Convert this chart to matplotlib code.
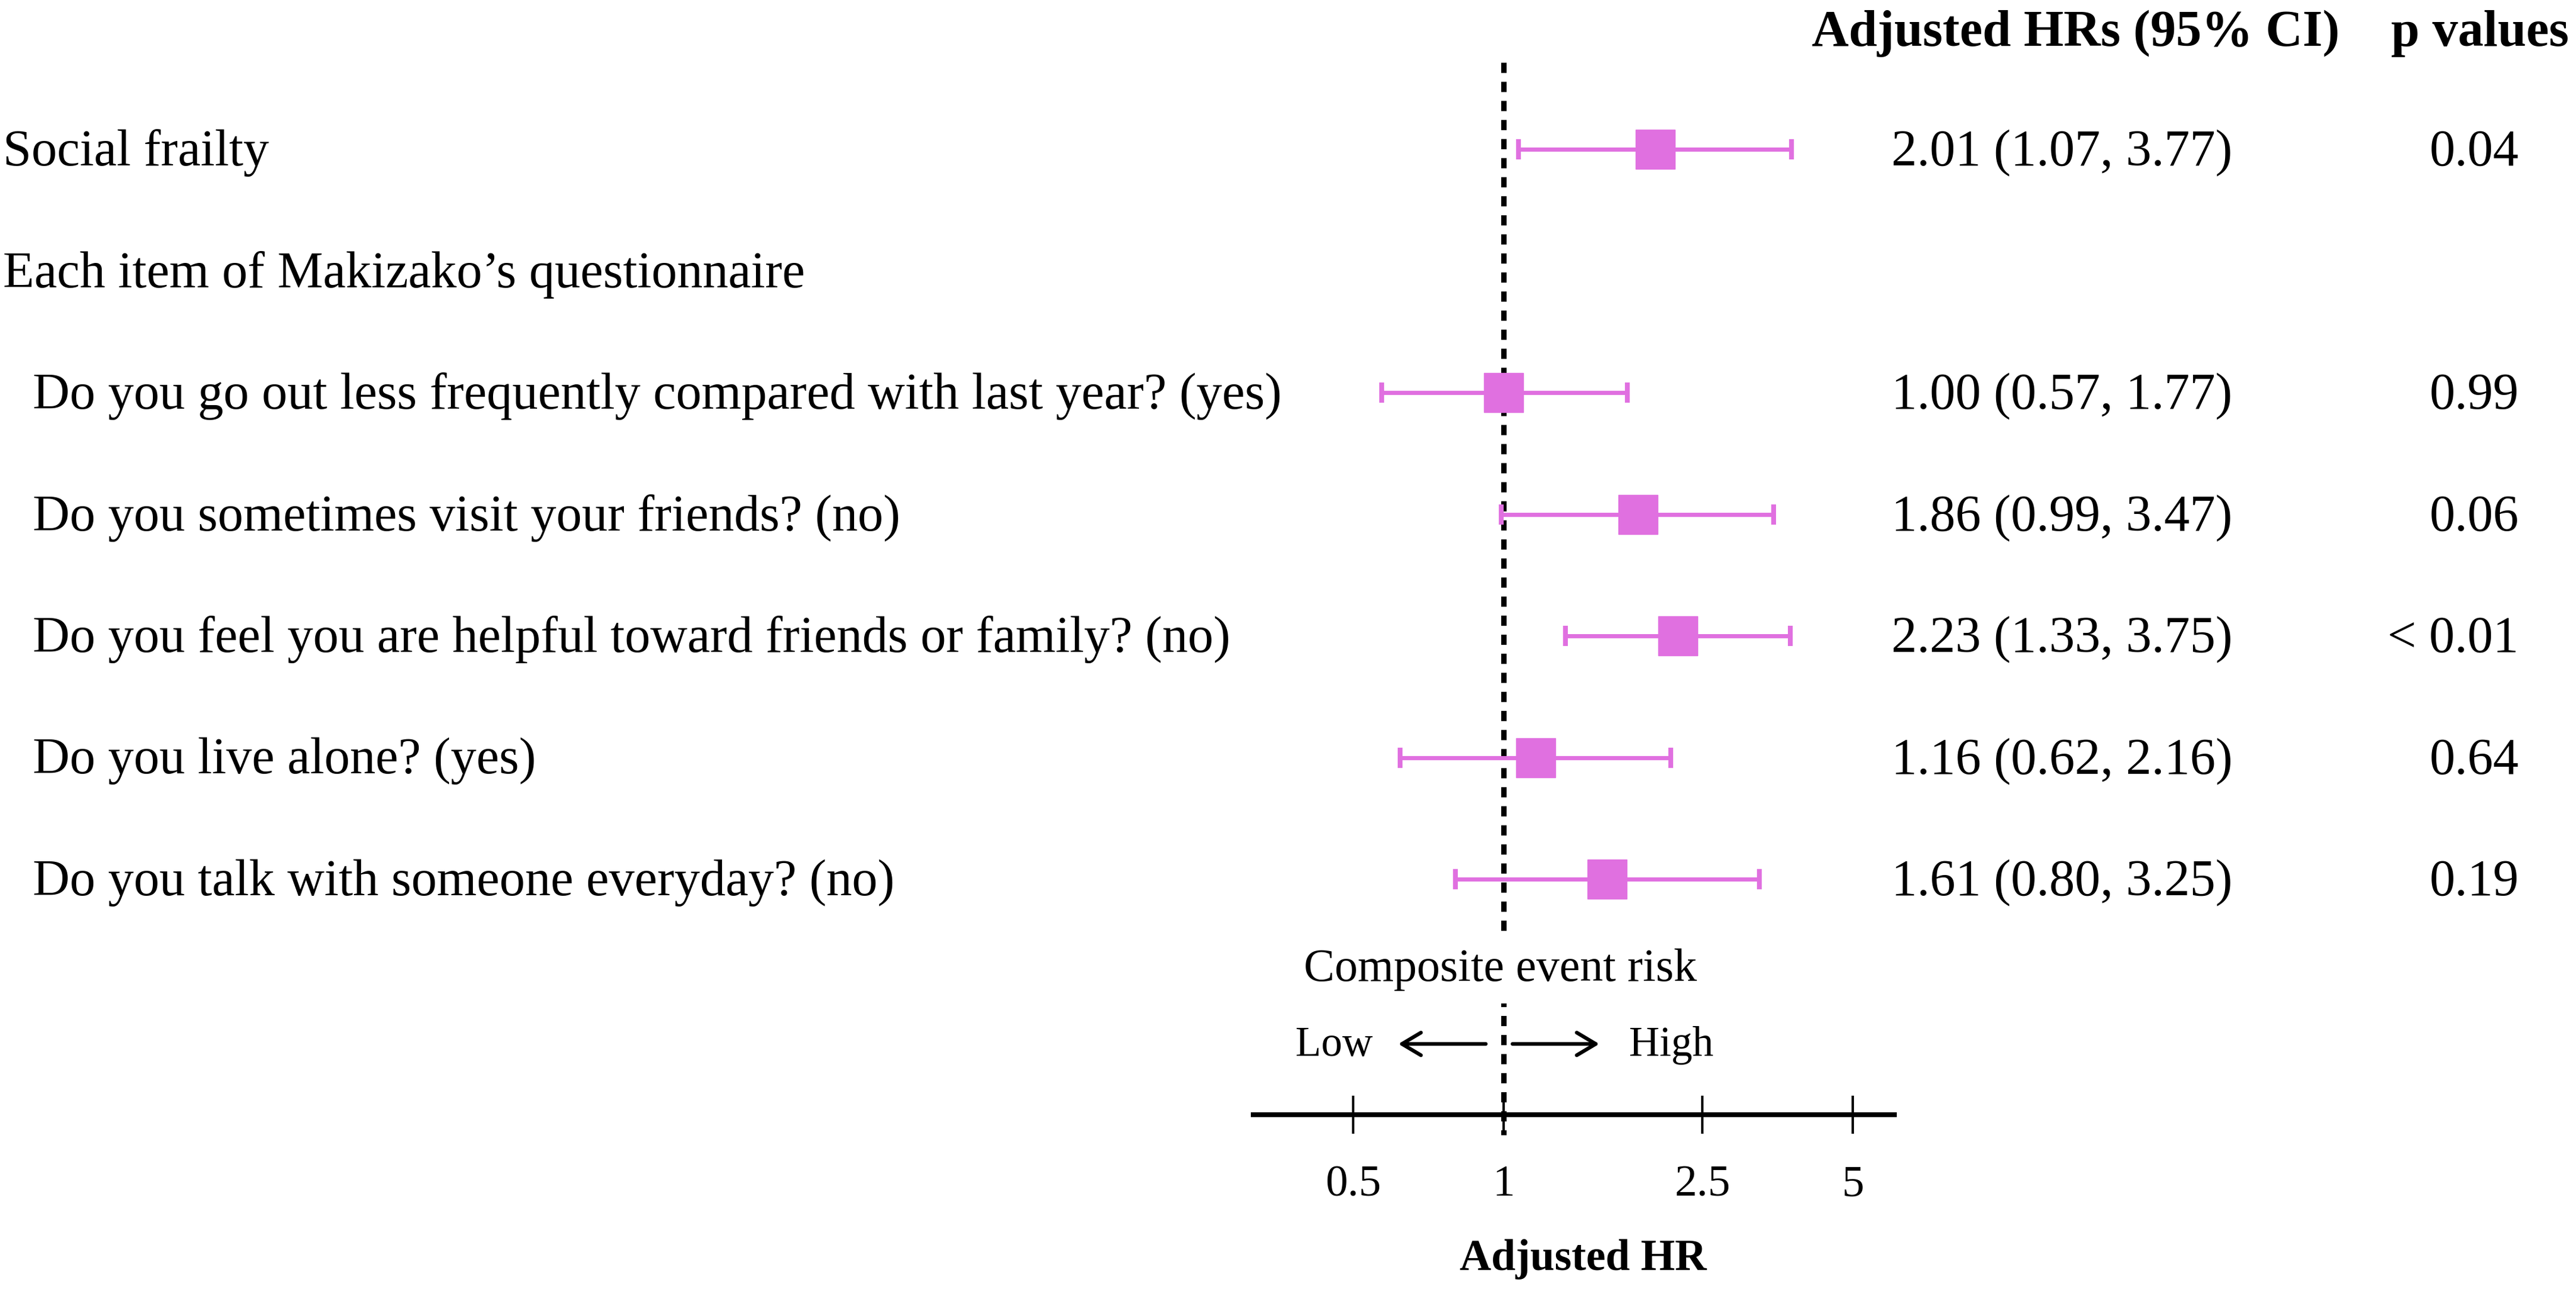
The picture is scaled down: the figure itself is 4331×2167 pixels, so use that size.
import matplotlib.pyplot as plt
import matplotlib.transforms as mtransforms

plt.rcParams['font.family'] = ['Liberation Serif', 'DejaVu Serif']

# rows of the forest plot (None = header row without an estimate)
labels = [
    "Social frailty",
    "Each item of Makizako\u2019s questionnaire",
    "Do you go out less frequently compared with last year? (yes)",
    "Do you sometimes visit your friends? (no)",
    "Do you feel you are helpful toward friends or family? (no)",
    "Do you live alone? (yes)",
    "Do you talk with someone everyday? (no)",
]
indented = [False, False, True, True, True, True, True]
hr = [2.01, None, 1.00, 1.86, 2.23, 1.16, 1.61]
ci_low = [1.07, None, 0.57, 0.99, 1.33, 0.62, 0.80]
ci_high = [3.77, None, 1.77, 3.47, 3.75, 2.16, 3.25]
p_values = ["0.04", "", "0.99", "0.06", "< 0.01", "0.64", "0.19"]
ticks = [0.5, 1, 2.5, 5]
tick_labels = ["0.5", "1", "2.5", "5"]

W, H = 4331, 2167
PINK = '#E070E0'

fig = plt.figure(figsize=(W / 100, H / 100), dpi=100)


def fx(px):
    return px / W


def fy(py):
    return 1 - py / H


# axes: bottom spine is the HR axis line
ax_left, ax_right, ax_bottom = 2107, 3185, 1874
ax = fig.add_axes([fx(ax_left), fy(ax_bottom), fx(ax_right - ax_left), ax_bottom / H])
ax.set_xscale('log')
ax.set_xlim(0.315, 6.06)
row_top, row_step = 251, 204.5


def row(py):
    return (py - row_top) / row_step


ax.set_ylim(row(ax_bottom), row(0))

for s in ['top', 'left', 'right']:
    ax.spines[s].set_visible(False)
ax.spines['bottom'].set_linewidth(5.8)
ax.set_yticks([])
ax.set_xticks(ticks)
ax.set_xticklabels(tick_labels, fontsize=54)
ax.minorticks_off()
ax.tick_params(axis='x', direction='inout', length=46, width=2.9, pad=38)
ax.patch.set_visible(False)

# reference line at HR = 1
ax.vlines(1, row(105), row(1908), colors='black', linewidth=6.5,
          linestyles=(0, (1.9, 1.65)), clip_on=False, zorder=1)

# estimates and confidence intervals
for i in range(len(labels)):
    if hr[i] is None:
        continue
    ax.errorbar(hr[i], i, xerr=[[hr[i] - ci_low[i]], [ci_high[i] - hr[i]]],
                fmt='s', color=PINK, ecolor=PINK, markersize=47.5,
                elinewidth=5, capsize=12.2, capthick=5.8, zorder=3)

# text columns: x in figure pixels, y in row units
tr = mtransforms.blended_transform_factory(fig.transFigure, ax.transData)
dy = 0.03
for i, lab in enumerate(labels):
    x = 55 if indented[i] else 5
    ax.text(fx(x), i + dy, lab, transform=tr, ha='left', va='center',
            fontsize=62, clip_on=False)
    if hr[i] is not None:
        ax.text(fx(3467), i + dy, f"{hr[i]:.2f} ({ci_low[i]:.2f}, {ci_high[i]:.2f})",
                transform=tr, ha='center', va='center', fontsize=62, clip_on=False)
    if p_values[i]:
        ax.text(fx(4235), i + dy, p_values[i], transform=tr, ha='right', va='center',
                fontsize=62, clip_on=False)

head_y = row(50) + dy
ax.text(fx(3490), head_y, "Adjusted HRs (95% CI)", transform=tr, ha='center',
        va='center', fontsize=62, fontweight='bold', clip_on=False)
ax.text(fx(4170), head_y, "p values", transform=tr, ha='center',
        va='center', fontsize=62, fontweight='bold', clip_on=False)

# risk direction annotation
fig.text(fx(2522), fy(1630), "Composite event risk", ha='center', va='center',
         fontsize=56, zorder=5,
         bbox=dict(facecolor='white', edgecolor='none', pad=15))
fig.text(fx(2308), fy(1757), "Low", ha='right', va='center', fontsize=51)
fig.text(fx(2739), fy(1757), "High", ha='left', va='center', fontsize=51)
arrow_kw = dict(arrowstyle='->,head_length=2.3,head_width=1.37', lw=4.5,
                color='black', shrinkA=0, shrinkB=0)
ax.annotate('', xy=(fx(2351), fy(1755)), xytext=(fx(2498), fy(1755)),
            xycoords='figure fraction', textcoords='figure fraction',
            arrowprops=arrow_kw, annotation_clip=False)
ax.annotate('', xy=(fx(2689), fy(1755)), xytext=(fx(2543), fy(1755)),
            xycoords='figure fraction', textcoords='figure fraction',
            arrowprops=arrow_kw, annotation_clip=False)

fig.text(fx(2662), fy(2117), "Adjusted HR", ha='center', va='center',
         fontsize=53, fontweight='bold')

fig.savefig('out.png', dpi=100, facecolor='white')
